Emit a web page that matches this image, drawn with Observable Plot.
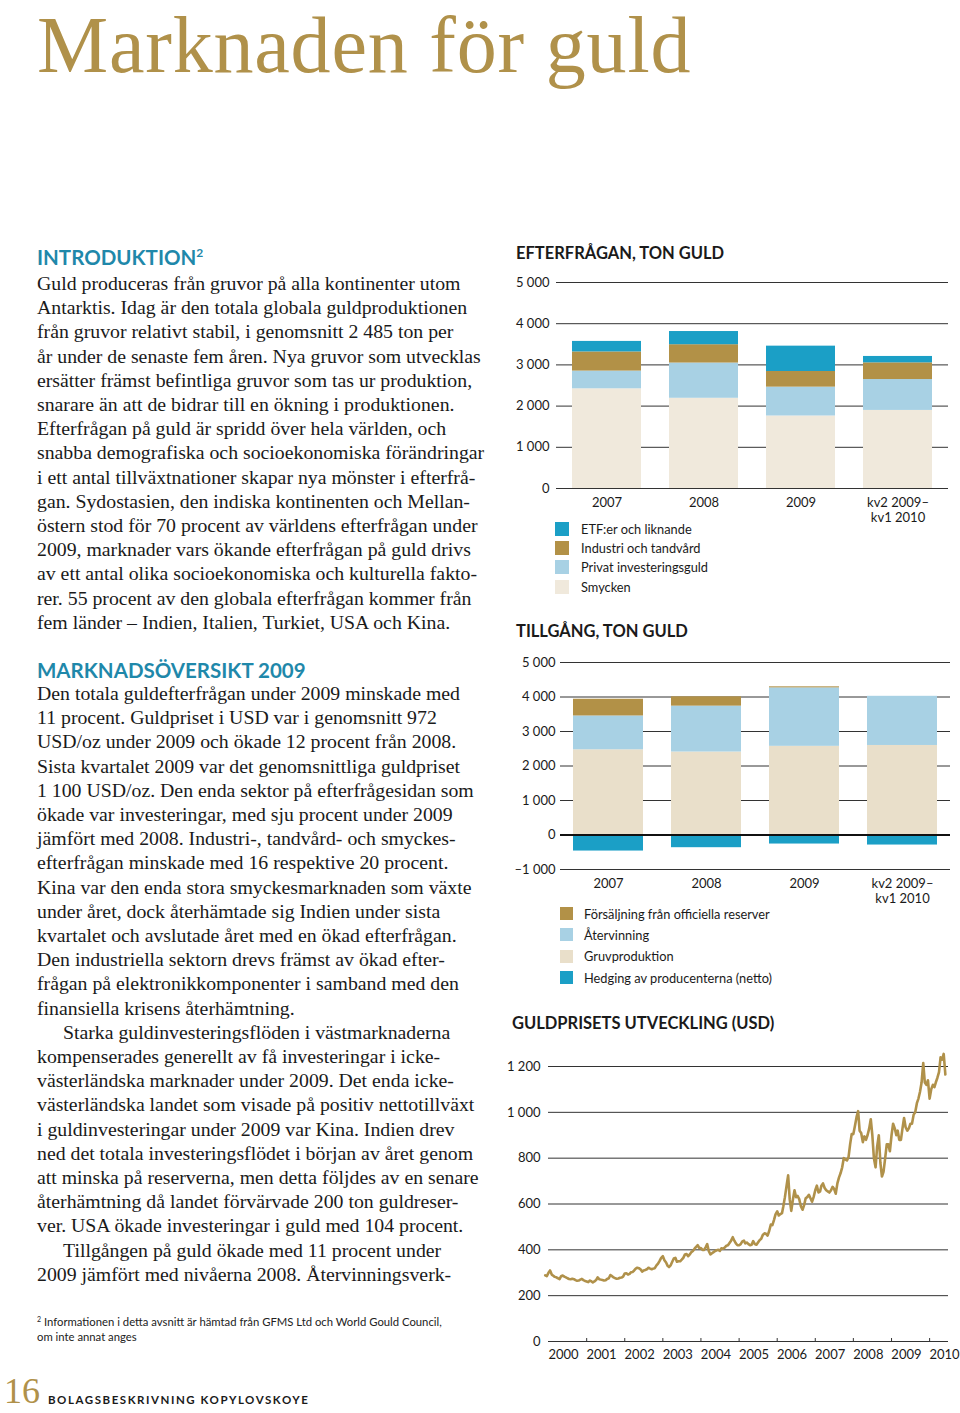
<!DOCTYPE html>
<html lang="sv">
<head>
<meta charset="utf-8">
<script src="https://cdn.jsdelivr.net/npm/d3@7"></script>
<script src="https://cdn.jsdelivr.net/npm/@observablehq/plot@0.6"></script>
<style>
  html, body { margin: 0; padding: 0; background: #fff; }
  #page { position: relative; width: 960px; height: 1413px; overflow: hidden; background: #fff; color: #1a1a1a; }
  .abs { position: absolute; }
  .title { left: 37px; top: 5px; font-family: "Liberation Serif", serif; font-size: 80px; line-height: 80px; color: #b0914a; letter-spacing: 0.8px; white-space: nowrap; }
  .heading { font-family: Lato, sans-serif; font-weight: 700; font-size: 20.5px; line-height: 24px; color: #1f88aa; white-space: nowrap; left: 37px; }
  .heading sup { font-size: 12px; vertical-align: 8px; line-height: 0; }
  .body { left: 37px; font-family: "Liberation Serif", serif; font-size: 19.8px; line-height: 24.2px; white-space: nowrap; color: #1a1a1a; }
  .ind { padding-left: 26px; }
  .foot { left: 37px; top: 1314px; font-family: Lato, sans-serif; font-size: 11.3px; line-height: 15px; white-space: nowrap; color: #222; }
  .foot sup { font-size: 7px; vertical-align: 4px; line-height: 0; }
  .pagenum { left: 4px; top: 1371px; font-family: "Liberation Serif", serif; font-size: 36px; line-height: 40px; color: #b0914a; }
  .runhead { left: 48px; top: 1393px; font-family: Lato, sans-serif; font-weight: 700; font-size: 11.5px; letter-spacing: 1.55px; color: #1a1a1a; white-space: nowrap; }
  .ctitle { font-family: Lato, sans-serif; font-weight: 700; font-size: 16.5px; line-height: 20px; color: #1a1a1a; white-space: nowrap; }
  .legend { font-family: Lato, sans-serif; font-size: 12.8px; color: #1a1a1a; }
  .legend .row { display: flex; align-items: center; white-space: nowrap; }
  .legend .sw { display: inline-block; flex: none; }
  .chart svg { overflow: visible; }
</style>
</head>
<body>
<div id="page">
  <div class="abs title">Marknaden för guld</div>

  <div class="abs heading" style="top:245px">INTRODUKTION<sup>2</sup></div>
  <div class="abs body" style="top:271px">
    Guld produceras från gruvor på alla kontinenter utom<br>
    Antarktis. Idag är den totala globala guldproduktionen<br>
    från gruvor relativt stabil, i genomsnitt 2 485 ton per<br>
    år under de senaste fem åren. Nya gruvor som utvecklas<br>
    ersätter främst befintliga gruvor som tas ur produktion,<br>
    snarare än att de bidrar till en ökning i produktionen.<br>
    Efterfrågan på guld är spridd över hela världen, och<br>
    snabba demografiska och socioekonomiska förändringar<br>
    i ett antal tillväxtnationer skapar nya mönster i efterfrå-<br>
    gan. Sydostasien, den indiska kontinenten och Mellan-<br>
    östern stod för 70 procent av världens efterfrågan under<br>
    2009, marknader vars ökande efterfrågan på guld drivs<br>
    av ett antal olika socioekonomiska och kulturella fakto-<br>
    rer. 55 procent av den globala efterfrågan kommer från<br>
    fem länder – Indien, Italien, Turkiet, USA och Kina.
  </div>

  <div class="abs heading" style="top:658px">MARKNADSÖVERSIKT 2009</div>
  <div class="abs body" style="top:681px">
    Den totala guldefterfrågan under 2009 minskade med<br>
    11 procent. Guldpriset i USD var i genomsnitt 972<br>
    USD/oz under 2009 och ökade 12 procent från 2008.<br>
    Sista kvartalet 2009 var det genomsnittliga guldpriset<br>
    1 100 USD/oz. Den enda sektor på efterfrågesidan som<br>
    ökade var investeringar, med sju procent under 2009<br>
    jämfört med 2008. Industri-, tandvård- och smyckes-<br>
    efterfrågan minskade med 16 respektive 20 procent.<br>
    Kina var den enda stora smyckesmarknaden som växte<br>
    under året, dock återhämtade sig Indien under sista<br>
    kvartalet och avslutade året med en ökad efterfrågan.<br>
    Den industriella sektorn drevs främst av ökad efter-<br>
    frågan på elektronikkomponenter i samband med den<br>
    finansiella krisens återhämtning.<br>
    <span class="ind">Starka guldinvesteringsflöden i västmarknaderna</span><br>
    kompenserades generellt av få investeringar i icke-<br>
    västerländska marknader under 2009. Det enda icke-<br>
    västerländska landet som visade på positiv nettotillväxt<br>
    i guldinvesteringar under 2009 var Kina. Indien drev<br>
    ned det totala investeringsflödet i början av året genom<br>
    att minska på reserverna, men detta följdes av en senare<br>
    återhämtning då landet förvärvade 200 ton guldreser-<br>
    ver. USA ökade investeringar i guld med 104 procent.<br>
    <span class="ind">Tillgången på guld ökade med 11 procent under</span><br>
    2009 jämfört med nivåerna 2008. Återvinningsverk-
  </div>

  <div class="abs foot"><sup>2</sup> Informationen i detta avsnitt är hämtad från GFMS Ltd och World Gould Council,<br>om inte annat anges</div>
  <div class="abs pagenum">16</div>
  <div class="abs runhead">BOLAGSBESKRIVNING KOPYLOVSKOYE</div>

  <!-- Chart 1 -->
  <div class="abs ctitle" style="left:516px; top:243px">EFTERFRÅGAN, TON GULD</div>
  <div class="abs chart" id="demand" style="left:510px; top:270px"></div>
  <div class="abs legend" id="demandLegend" style="left:555px; top:519px"></div>

  <!-- Chart 2 -->
  <div class="abs ctitle" style="left:516px; top:621px">TILLGÅNG, TON GULD</div>
  <div class="abs chart" id="supply" style="left:510px; top:650px"></div>
  <div class="abs legend" id="supplyLegend" style="left:560px; top:903px"></div>

  <!-- Chart 3 -->
  <div class="abs ctitle" style="left:512px; top:1013px">GULDPRISETS UTVECKLING (USD)</div>
  <div class="abs chart" id="price" style="left:500px; top:1040px"></div>
</div>

<script>
// ---------- Data ----------
const periods = ["2007", "2008", "2009", "kv2 2009–\nkv1 2010"];

// Efterfrågan, ton guld
const demandSeries = ["Smycken", "Privat investeringsguld", "Industri och tandvård", "ETF:er och liknande"];
const smycken   = [2420, 2190, 1760, 1895];
const privat    = [430, 855, 700, 750];
const industri  = [465, 445, 380, 405];
const etf       = [255, 320, 615, 155];
const demandColors = ["#f0e9dc", "#a8d1e4", "#b29147", "#1b9fc6"];
const demandLegendOrder = ["ETF:er och liknande", "Industri och tandvård", "Privat investeringsguld", "Smycken"];

// Tillgång, ton guld
const supplySeries = ["Gruvproduktion", "Återvinning", "Försäljning från officiella reserver", "Hedging av producenterna (netto)"];
const gruvproduktion = [2470, 2405, 2570, 2595];
const atervinning    = [980, 1330, 1695, 1425];
const officiella     = [485, 270, 30, 0];
const hedging        = [-465, -368, -262, -291];
const supplyColors = ["#e9dfca", "#a8d1e4", "#b29147", "#1b9fc6"];
const supplyLegendOrder = ["Försäljning från officiella reserver", "Återvinning", "Gruvproduktion", "Hedging av producenterna (netto)"];

const demandTicks = [0, 1000, 2000, 3000, 4000, 5000];
const supplyTicks = [-1000, 0, 1000, 2000, 3000, 4000, 5000];

// Guldprisets utveckling (USD), two readings per month, first reading at start of the line
const priceFirstMonth = "1999-12-01";
const priceValues = [
  289,285,300,310,292,287,282,280,276,272,285,288,283,280,276,273,272,274,272,268,265,266,270,273,
  268,264,262,259,266,262,258,262,268,280,272,270,268,266,267,273,276,290,285,280,276,274,275,278,
  279,283,297,298,292,295,302,303,310,318,322,320,315,305,310,312,315,322,318,315,318,320,332,340,
  352,365,372,355,345,330,325,332,348,362,365,348,350,350,357,365,380,382,372,380,390,395,405,413,
  420,408,408,400,400,412,425,395,380,385,390,395,398,400,395,407,405,410,418,420,430,440,455,440,
  428,420,420,425,437,440,428,432,425,420,422,438,425,422,432,442,448,465,472,470,462,482,510,508,
  530,555,568,550,556,560,590,630,680,725,620,570,620,660,630,635,620,590,575,595,625,630,640,625,
  610,630,660,680,650,655,680,690,670,660,655,650,660,675,665,645,690,715,735,760,800,795,790,805,
  860,905,905,940,980,1005,920,910,870,895,880,900,930,970,900,800,760,850,900,780,720,740,800,860,
  860,830,900,950,930,900,920,880,880,930,975,935,920,930,950,950,990,1000,1040,1060,1090,1130,1215,1130,
  1120,1140,1060,1100,1120,1110,1130,1150,1175,1240,1230,1255,1165
];
const priceYears = [2000, 2001, 2002, 2003, 2004, 2005, 2006, 2007, 2008, 2009, 2010];
const priceTicks = [0, 200, 400, 600, 800, 1000, 1200];

// ---------- Helpers ----------
const loc = d3.formatLocale({decimal: ",", thousands: " ", grouping: [3], currency: ["", ""], minus: "–"});
const fmt = loc.format(",d");

function rowsFrom(series, arrays) {
  const out = [];
  periods.forEach((p, i) => series.forEach((s, j) => out.push({period: p, series: s, value: arrays[j][i]})));
  return out;
}

function legend(el, order, series, colors, sw, rowH, gap) {
  const node = document.getElementById(el);
  order.forEach(name => {
    const row = document.createElement("div");
    row.className = "row";
    row.style.height = rowH + "px";
    const box = document.createElement("span");
    box.className = "sw";
    box.style.width = sw + "px"; box.style.height = sw + "px";
    box.style.background = colors[series.indexOf(name)];
    box.style.marginRight = gap + "px";
    const t = document.createElement("span");
    t.textContent = name;
    row.appendChild(box); row.appendChild(t);
    node.appendChild(row);
  });
}

const baseStyle = {fontFamily: "Lato, sans-serif", fontSize: "13px", color: "#1a1a1a", background: "transparent", overflow: "visible"};

// ---------- Chart 1: Efterfrågan ----------
const demandRows = rowsFrom(demandSeries, [smycken, privat, industri, etf]);
document.getElementById("demand").appendChild(Plot.plot({
  width: 450, height: 262,
  marginLeft: 46, marginRight: 12, marginTop: 12, marginBottom: 44,
  style: baseStyle,
  x: {domain: periods, paddingInner: 0.2857, paddingOuter: 0.1429, axis: null},
  y: {domain: [0, 5000], axis: null},
  color: {domain: demandSeries, range: demandColors},
  marks: [
    Plot.ruleY(demandTicks, {stroke: "#333", strokeWidth: 1}),
    Plot.barY(demandRows, {x: "period", y: "value", fill: "series", order: demandSeries}),
    Plot.axisY(demandTicks, {label: null, tickSize: 0, tickPadding: 7, tickFormat: fmt, fontSize: 13, textAnchor: "end"}),
    Plot.text(periods, {x: d => d, text: d => d, frameAnchor: "bottom", lineAnchor: "top", dy: 7, lineHeight: 1.2, fontSize: 13})
  ]
}));
legend("demandLegend", demandLegendOrder, demandSeries, demandColors, 14, 19.3, 12);

// ---------- Chart 2: Tillgång ----------
const supplyRows = rowsFrom(supplySeries, [gruvproduktion, atervinning, officiella, hedging]);
document.getElementById("supply").appendChild(Plot.plot({
  width: 450, height: 263,
  marginLeft: 50, marginRight: 10, marginTop: 12, marginBottom: 44,
  style: baseStyle,
  x: {domain: periods, paddingInner: 0.2857, paddingOuter: 0.13, axis: null},
  y: {domain: [-1000, 5000], axis: null},
  color: {domain: supplySeries, range: supplyColors},
  marks: [
    Plot.ruleY(supplyTicks.filter(d => d !== 0), {stroke: "#333", strokeWidth: 1}),
    Plot.barY(supplyRows, {x: "period", y: "value", fill: "series", order: supplySeries}),
    Plot.ruleY([0], {stroke: "#111", strokeWidth: 2}),
    Plot.axisY(supplyTicks, {label: null, tickSize: 0, tickPadding: 5, tickFormat: fmt, fontSize: 13, textAnchor: "end"}),
    Plot.text(periods, {x: d => d, text: d => d, frameAnchor: "bottom", lineAnchor: "top", dy: 7, lineHeight: 1.2, fontSize: 13})
  ]
}));
legend("supplyLegend", supplyLegendOrder, supplySeries, supplyColors, 13, 21.3, 11);

// ---------- Chart 3: Guldpris ----------
const start = new Date(priceFirstMonth + "T00:00:00Z");
const priceRows = priceValues.map((v, i) => ({
  date: d3.utcDay.offset(d3.utcMonth.offset(start, Math.floor(i / 2)), i % 2 ? 15 : 0),
  price: v
}));
const yearStart = y => new Date(Date.UTC(y, 0, 1));
const yearMid = y => new Date(Date.UTC(y, 6, 1));
document.getElementById("price").appendChild(Plot.plot({
  width: 460, height: 331,
  marginLeft: 48, marginRight: 12, marginTop: 26, marginBottom: 30,
  style: baseStyle,
  x: {type: "utc", domain: [yearStart(2000), yearMid(2010)], axis: null},
  y: {domain: [0, 1200], axis: null},
  marks: [
    Plot.ruleY(priceTicks.filter(d => d > 0), {stroke: "#333", strokeWidth: 1}),
    Plot.ruleY([0], {stroke: "#333", strokeWidth: 1.2}),
    Plot.ruleX(priceYears.slice(1), {x: yearStart, y1: 0, y2: 13, stroke: "#333", strokeWidth: 1}),
    Plot.lineY(priceRows, {x: "date", y: "price", stroke: "#b0914a", strokeWidth: 2.6, strokeLinejoin: "round"}),
    Plot.axisY(priceTicks, {label: null, tickSize: 0, tickPadding: 8, tickFormat: fmt, fontSize: 13, textAnchor: "end"}),
    Plot.text(priceYears, {x: yearMid, text: d => String(d), frameAnchor: "bottom", lineAnchor: "top", dy: 8, dx: -4, fontSize: 13})
  ]
}));
</script>
</body>
</html>
